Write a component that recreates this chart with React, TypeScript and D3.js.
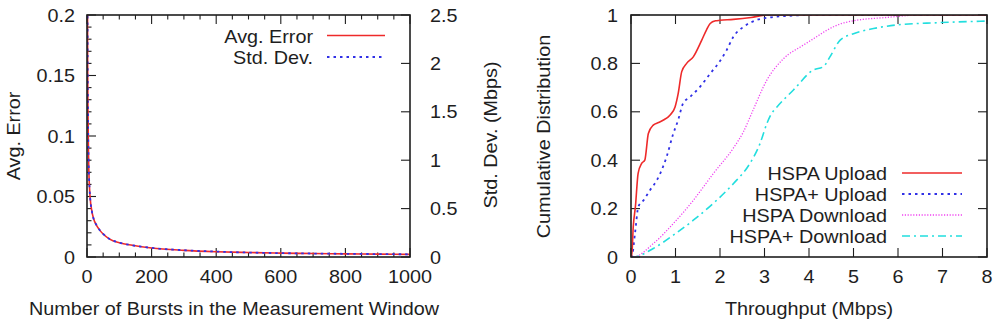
import React from "react";
import * as d3 from "d3";

// ---- Left panel: estimation error vs. number of bursts ----
const burstCounts = [1, 2, 3, 5, 8, 10, 15, 20, 30, 40, 50, 70, 100, 140, 200, 300, 400, 500, 600, 700, 800, 900, 1000];
const avgError = [0.3, 0.16, 0.12, 0.08, 0.056, 0.048, 0.038, 0.032, 0.026, 0.022, 0.019, 0.0148, 0.0118, 0.0097, 0.0074, 0.0055, 0.0044, 0.0037, 0.0032, 0.0029, 0.0026, 0.0024, 0.0022];
const stdDevMbps = [3.7, 2.0, 1.5, 1.0, 0.7, 0.6, 0.475, 0.4, 0.325, 0.275, 0.238, 0.186, 0.148, 0.121, 0.094, 0.07, 0.056, 0.046, 0.04, 0.036, 0.033, 0.03, 0.028];
const burstTicks = [0, 200, 400, 600, 800, 1000];
const errorTicks = [0, 0.05, 0.1, 0.15, 0.2];
const errorTickLabels = ["0", "0.05", "0.1", "0.15", "0.2"];
const stdTicks = [0, 0.5, 1, 1.5, 2, 2.5];
const stdTickLabels = ["0", "0.5", "1", "1.5", "2", "2.5"];

// ---- Right panel: throughput CDFs ----
const hspaUpX = [0, 0.015, 0.05, 0.1, 0.16, 0.24, 0.31, 0.39, 0.5, 0.62, 0.73, 0.88, 0.99, 1.06, 1.14, 1.25, 1.4, 1.59, 1.7, 1.78, 1.9, 2.0, 2.3, 2.7, 3.05, 8];
const hspaUpY = [0, 0, 0.124, 0.21, 0.346, 0.387, 0.4, 0.51, 0.545, 0.556, 0.566, 0.587, 0.62, 0.675, 0.766, 0.8, 0.827, 0.896, 0.94, 0.965, 0.976, 0.978, 0.982, 0.99, 1.0, 1.0];
const hspaPlusUpX = [0, 0.015, 0.09, 0.165, 0.28, 0.43, 0.58, 0.69, 0.8, 0.95, 1.06, 1.17, 1.33, 1.55, 1.78, 2.0, 2.15, 2.3, 2.52, 2.82, 3.12, 3.5, 4.0, 8];
const hspaPlusUpY = [0, 0, 0.098, 0.208, 0.234, 0.277, 0.317, 0.359, 0.414, 0.51, 0.566, 0.635, 0.662, 0.703, 0.758, 0.81, 0.855, 0.91, 0.95, 0.979, 0.99, 0.996, 1.0, 1.0];
const hspaDownX = [0, 0.05, 0.5, 0.95, 1.4, 1.85, 2.3, 2.52, 2.75, 3.05, 3.43, 3.87, 4.17, 4.4, 4.7, 5.0, 5.75, 6.5, 8];
const hspaDownY = [0, 0, 0.055, 0.138, 0.234, 0.345, 0.45, 0.515, 0.61, 0.73, 0.82, 0.875, 0.91, 0.937, 0.963, 0.976, 0.99, 1.0, 1.0];
const hspaPlusDownX = [0, 0.05, 0.5, 0.95, 1.4, 1.85, 2.3, 2.67, 2.9, 3.05, 3.15, 3.28, 3.65, 4.1, 4.32, 4.47, 4.7, 5.0, 5.45, 5.97, 6.87, 8];
const hspaPlusDownY = [0, 0, 0.035, 0.09, 0.152, 0.222, 0.303, 0.386, 0.469, 0.55, 0.59, 0.62, 0.69, 0.773, 0.786, 0.827, 0.896, 0.923, 0.944, 0.959, 0.968, 0.975];
const throughputTicks = [0, 1, 2, 3, 4, 5, 6, 7, 8];
const cdfTicks = [0, 0.2, 0.4, 0.6, 0.8, 1];
const cdfTickLabels = ["0", "0.2", "0.4", "0.6", "0.8", "1"];

const FONT = "'Liberation Sans', Arial, Helvetica, sans-serif";
const FS = 18;
const SX = 1.1; // horizontal text stretch
const INK = "#1e1e1e";

type TxtProps = { x: number; y: number; anchor?: "start" | "middle" | "end"; rotate?: number; children: React.ReactNode };
function Txt({ x, y, anchor = "start", rotate = 0, children }: TxtProps) {
  return (
    <text
      transform={`translate(${x},${y}) rotate(${rotate}) scale(${SX},1)`}
      textAnchor={anchor}
      fontFamily={FONT}
      fontSize={FS}
      fill={INK}
    >
      {children}
    </text>
  );
}

const MAJ = 9;
const MIN = 4.5;

function LeftPanel() {
  const x = d3.scaleLinear().domain([0, 1000]).range([87, 410]);
  const y = d3.scaleLinear().domain([0, 0.2]).range([257, 15]);
  const y2 = d3.scaleLinear().domain([0, 2.5]).range([257, 15]);
  const [x0, x1] = x.range();
  const [yb, yt] = y.range();

  const errLine = d3.line<number>().x((_, i) => x(burstCounts[i])).y((d) => y(d)).curve(d3.curveMonotoneX);
  const stdLine = d3.line<number>().x((_, i) => x(burstCounts[i])).y((d) => y2(d)).curve(d3.curveMonotoneX);

  const xMinor = d3.range(0, 1001, 50).filter((v) => v % 200 !== 0);
  const yMinor = d3.range(1, 20).map((v) => v / 100).filter((v) => Math.round(v * 100) % 5 !== 0);

  return (
    <g>
      <defs>
        <clipPath id="clipL">
          <rect x={x0} y={yt} width={x1 - x0} height={yb - yt} />
        </clipPath>
      </defs>
      <g stroke={INK} strokeWidth={1.1}>
        {burstTicks.map((t) => (
          <g key={"bx" + t}>
            <line x1={x(t)} x2={x(t)} y1={yb} y2={yb - MAJ} />
            <line x1={x(t)} x2={x(t)} y1={yt} y2={yt + MAJ} />
          </g>
        ))}
        {xMinor.map((t) => (
          <g key={"bm" + t}>
            <line x1={x(t)} x2={x(t)} y1={yb} y2={yb - MIN} />
            <line x1={x(t)} x2={x(t)} y1={yt} y2={yt + MIN} />
          </g>
        ))}
        {errorTicks.map((t) => (
          <line key={"ey" + t} x1={x0} x2={x0 + MAJ} y1={y(t)} y2={y(t)} />
        ))}
        {yMinor.map((t) => (
          <line key={"em" + t} x1={x0} x2={x0 + MIN} y1={y(t)} y2={y(t)} />
        ))}
        {stdTicks.map((t) => (
          <line key={"sy" + t} x1={x1} x2={x1 - MAJ} y1={y2(t)} y2={y2(t)} />
        ))}
      </g>
      <g clipPath="url(#clipL)" fill="none">
        <path d={errLine(avgError) || ""} stroke="#ee2a2a" strokeWidth={1.6} />
        <path d={stdLine(stdDevMbps) || ""} stroke="#3030e6" strokeWidth={1.8} strokeDasharray="2.5,4" />
      </g>
      <rect x={x0} y={yt} width={x1 - x0} height={yb - yt} fill="none" stroke={INK} strokeWidth={1.6} />

      {burstTicks.map((t) => (
        <Txt key={"bl" + t} x={x(t)} y={283} anchor="middle">{String(t)}</Txt>
      ))}
      {errorTicks.map((t, i) => (
        <Txt key={"el" + t} x={75} y={y(t) + 6.5} anchor="end">{errorTickLabels[i]}</Txt>
      ))}
      {stdTicks.map((t, i) => (
        <Txt key={"sl" + t} x={430} y={y2(t) + 6.5} anchor="start">{stdTickLabels[i]}</Txt>
      ))}
      <Txt x={234} y={315} anchor="middle">Number of Bursts in the Measurement Window</Txt>
      <Txt x={20} y={136} anchor="middle" rotate={-90}>Avg. Error</Txt>
      <Txt x={497} y={135} anchor="middle" rotate={-90}>Std. Dev. (Mbps)</Txt>

      {/* legend */}
      <Txt x={313} y={42.5} anchor="end">Avg. Error</Txt>
      <line x1={327} x2={385} y1={35.5} y2={35.5} stroke="#ee2a2a" strokeWidth={1.6} />
      <Txt x={313} y={63.5} anchor="end">Std. Dev.</Txt>
      <line x1={327} x2={385} y1={57} y2={57} stroke="#3030e6" strokeWidth={1.8} strokeDasharray="2.5,4" />
    </g>
  );
}

type Series = { name: string; xs: number[]; ys: number[]; color: string; width: number; dash?: string };

function RightPanel() {
  const x = d3.scaleLinear().domain([0, 8]).range([631, 987]);
  const y = d3.scaleLinear().domain([0, 1]).range([257, 15]);
  const [x0, x1] = x.range();
  const [yb, yt] = y.range();

  const series: Series[] = [
    { name: "HSPA Upload", xs: hspaUpX, ys: hspaUpY, color: "#ee2a2a", width: 1.6 },
    { name: "HSPA+ Upload", xs: hspaPlusUpX, ys: hspaPlusUpY, color: "#3030e6", width: 1.8, dash: "2.5,4" },
    { name: "HSPA Download", xs: hspaDownX, ys: hspaDownY, color: "#f044f0", width: 1.3, dash: "1.2,1.6" },
    { name: "HSPA+ Download", xs: hspaPlusDownX, ys: hspaPlusDownY, color: "#22dede", width: 1.6, dash: "8,4,2,4" },
  ];

  const mk = (s: Series) =>
    d3.line<number>().x((d) => x(d)).y((_, i) => y(s.ys[i])).curve(d3.curveMonotoneX)(s.xs) || "";

  const legendY = [173, 194, 215, 236];

  return (
    <g>
      <defs>
        <clipPath id="clipR">
          <rect x={x0} y={yt} width={x1 - x0} height={yb - yt} />
        </clipPath>
      </defs>
      <g stroke={INK} strokeWidth={1.1}>
        {throughputTicks.map((t) => (
          <g key={"tx" + t}>
            <line x1={x(t)} x2={x(t)} y1={yb} y2={yb - MAJ} />
            <line x1={x(t)} x2={x(t)} y1={yt} y2={yt + MAJ} />
          </g>
        ))}
        {cdfTicks.map((t) => (
          <g key={"cy" + t}>
            <line x1={x0} x2={x0 + MAJ} y1={y(t)} y2={y(t)} />
            <line x1={x1} x2={x1 - MAJ} y1={y(t)} y2={y(t)} />
          </g>
        ))}
      </g>
      <g clipPath="url(#clipR)" fill="none">
        {series.slice().reverse().map((s) => (
          <path key={s.name} d={mk(s)} stroke={s.color} strokeWidth={s.width} strokeDasharray={s.dash} />
        ))}
      </g>
      <rect x={x0} y={yt} width={x1 - x0} height={yb - yt} fill="none" stroke={INK} strokeWidth={1.6} />

      {throughputTicks.map((t) => (
        <Txt key={"tl" + t} x={x(t)} y={283} anchor="middle">{String(t)}</Txt>
      ))}
      {cdfTicks.map((t, i) => (
        <Txt key={"cl" + t} x={618} y={y(t) + 6.5} anchor="end">{cdfTickLabels[i]}</Txt>
      ))}
      <Txt x={809} y={315} anchor="middle">Throughput (Mbps)</Txt>
      <Txt x={550} y={136.5} anchor="middle" rotate={-90}>Cumulative Distribution</Txt>

      {series.map((s, i) => (
        <g key={"lg" + s.name}>
          <Txt x={887} y={legendY[i] + 6.5} anchor="end">{s.name}</Txt>
          <line x1={902} x2={962} y1={legendY[i]} y2={legendY[i]} stroke={s.color} strokeWidth={s.width} strokeDasharray={s.dash} />
        </g>
      ))}
    </g>
  );
}

export default function App() {
  return (
    <div style={{ position: "absolute", left: 0, top: 0 }}>
      <svg width={1001} height={327} viewBox="0 0 1001 327" style={{ display: "block", background: "#fff" }}>
        <LeftPanel />
        <RightPanel />
      </svg>
    </div>
  );
}
